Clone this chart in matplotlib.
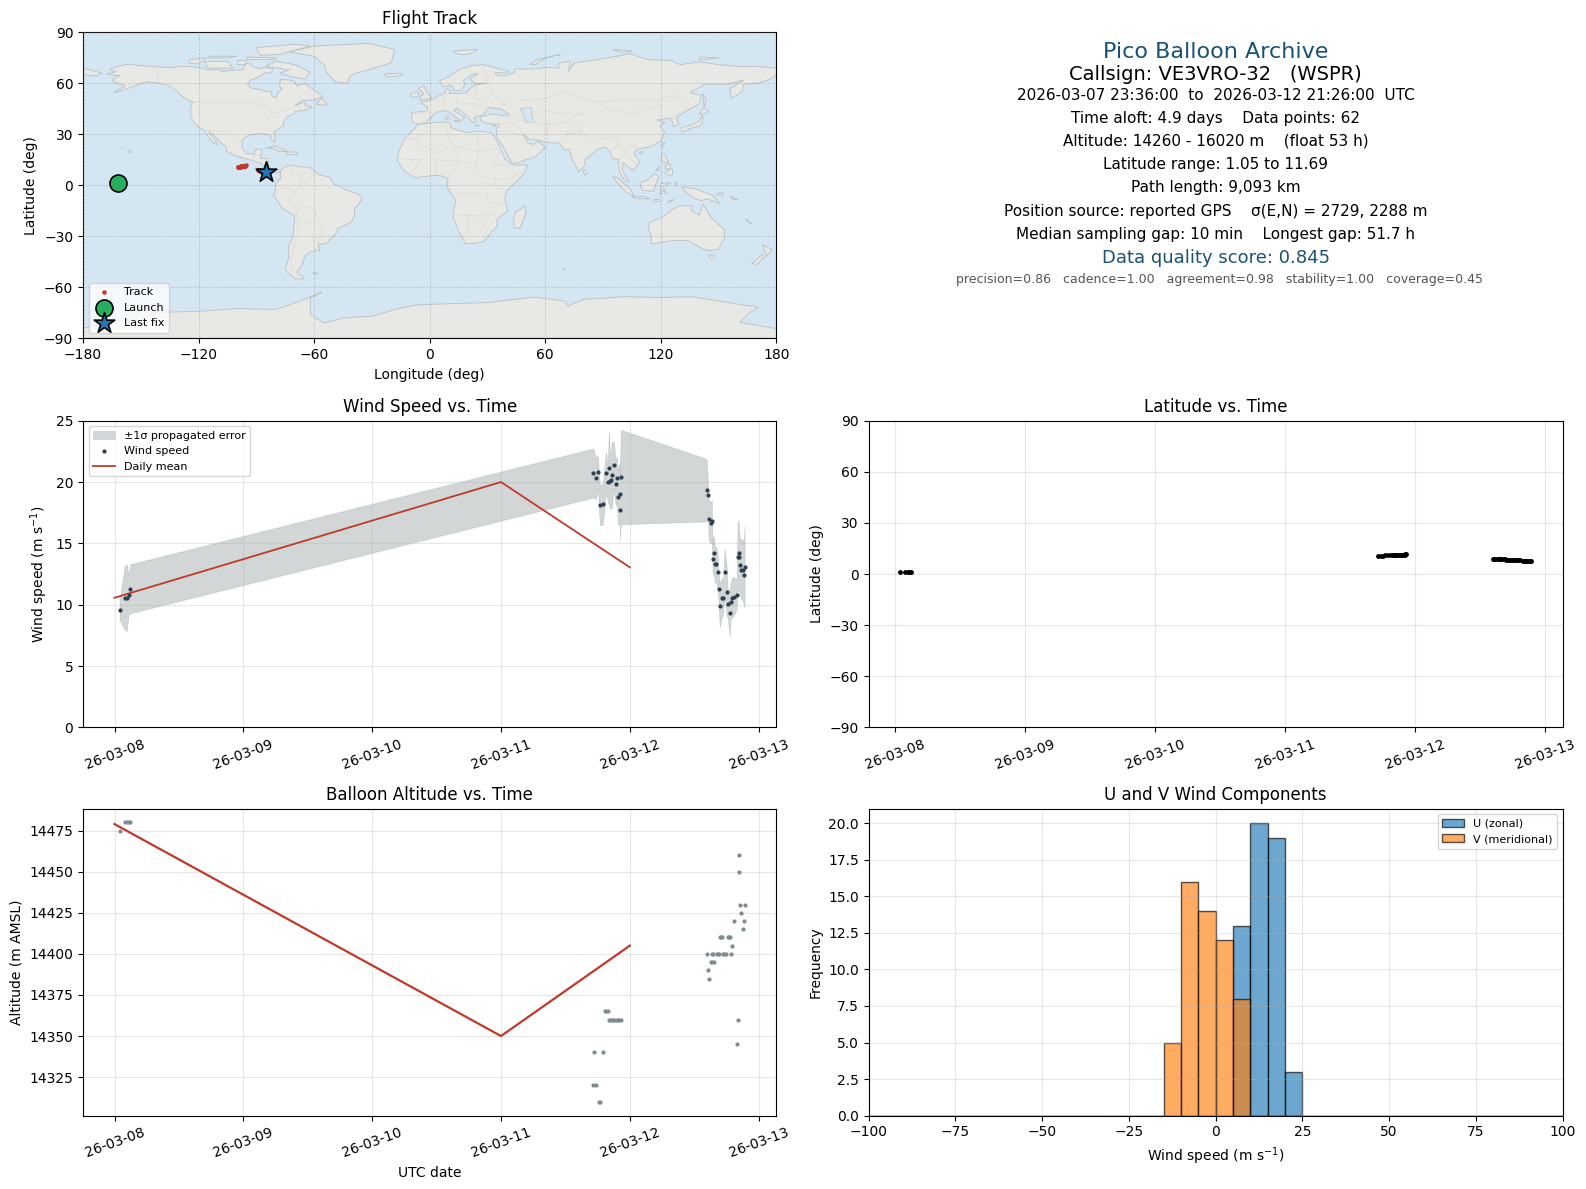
import datetime as dt
import numpy as np
import matplotlib
matplotlib.use("Agg")
import matplotlib.pyplot as plt
import matplotlib.dates as mdates

W, H = 1586, 1189
BASE = mdates.date2num(dt.datetime(2026, 3, 8))

# ---------- measured series (days after 2026-03-08 00:00 UTC) ----------
wind_days = [0.039,0.080,0.096,0.109,0.124,
 3.718,3.736,3.752,3.767,3.791,3.814,3.829,3.837,3.845,3.853,3.860,3.876,3.891,3.899,3.907,3.922,3.922,3.930,
 4.597,4.605,4.612,4.628,4.636,4.643,4.651,4.659,4.672,4.682,4.690,4.698,4.713,4.724,4.736,4.752,4.760,4.775,
 4.783,4.791,4.806,4.829,4.837,4.845,4.845,4.853,4.863,4.876,4.884,4.891]
wind_speed = [9.59,10.57,10.57,10.82,11.31,
 20.74,20.30,20.82,18.11,18.20,20.74,20.00,21.15,20.11,20.19,20.55,21.39,19.84,20.33,18.77,19.02,17.70,20.41,
 19.34,18.93,16.97,16.64,16.80,13.69,14.18,13.28,13.28,12.70,11.31,9.92,10.57,10.57,12.70,11.07,10.08,9.34,
 10.25,10.57,10.66,10.82,13.85,14.18,13.85,13.20,12.87,12.87,12.46,13.11]
wind_sigma = [0.8,2.65,2.7,1.6,2.0,
 2.0,1.7,1.3,1.6,1.7,1.7,1.5,3.0,2.3,2.2,2.7,1.9,1.8,1.8,2.2,2.5,2.5,3.85,
 2.55,1.3,1.7,1.65,1.75,1.2,1.5,1.5,1.4,1.5,1.2,1.75,1.6,1.3,1.9,2.0,1.1,1.95,
 1.5,1.6,1.6,1.2,2.8,2.7,2.7,2.3,2.4,2.5,2.4,3.35]
latitude = [1.05,1.30,1.35,1.35,1.40,
 10.7,10.75,10.8,10.9,10.95,11.0,11.05,11.1,11.1,11.15,11.2,11.2,11.25,11.3,11.35,11.4,11.5,11.69,
 9.1,9.05,9.0,8.95,8.9,8.85,8.8,8.75,8.7,8.65,8.6,8.5,8.45,8.4,8.35,8.3,8.2,8.15,
 8.1,8.05,8.0,7.95,7.9,7.85,7.8,7.75,7.7,7.65,7.6,7.55]
longitude = [-161.6,-161.2,-161.0,-160.8,-160.5,
 -99.6,-99.4,-99.2,-99.0,-98.8,-98.5,-98.2,-98.0,-97.8,-97.6,-97.3,-97.1,-96.8,-96.6,-96.3,-96.0,-95.8,-95.5,
 -89.0,-88.9,-88.8,-88.7,-88.6,-88.5,-88.4,-88.3,-88.2,-88.1,-88.0,-87.9,-87.8,-87.7,-87.6,-87.5,-87.4,-87.3,
 -87.2,-87.1,-87.0,-86.8,-86.6,-86.4,-86.2,-86.0,-85.8,-85.5,-85.2,-85.0]
launch_lon, launch_lat = -161.6, 1.4
last_lon, last_lat = -85.0, 7.6

alt_days = [0.039,0.080,0.096,0.109,0.124,
 3.718,3.721,3.736,3.760,3.767,3.791,3.809,3.819,3.829,3.837,3.848,3.860,3.868,3.881,3.894,3.907,3.920,3.930,
 4.597,4.605,4.612,4.628,4.638,4.638,4.646,4.654,4.674,4.685,4.693,4.698,4.705,4.716,4.721,4.734,4.747,4.760,
 4.767,4.778,4.783,4.791,4.806,4.829,4.837,4.845,4.845,4.853,4.860,4.876,4.884,4.891]
altitude = [14475,14480,14480,14480,14480,
 14320,14340,14320,14310,14310,14340,14365,14365,14365,14360,14360,14360,14360,14360,14360,14360,14360,14360,
 14400,14390,14385,14395,14395,14400,14400,14395,14400,14400,14400,14410,14410,14410,14400,14400,14400,14410,
 14410,14410,14400,14405,14420,14345,14360,14450,14460,14430,14425,14415,14420,14430]

mean_days = [0, 3, 4]
mean_wind = [10.57, 20.0, 13.05]
mean_alt = [14479, 14350, 14405]

hist_edges = list(range(-100, 105, 5))
u_bins = {5: 13, 10: 20, 15: 19, 20: 3}
v_bins = {-15: 5, -10: 16, -5: 14, 0: 12, 5: 8}

date_ticks = [dt.datetime(2026, 3, d) for d in range(8, 14)]

info_lines = [
 ("Pico Balloon Archive", 16, "#1a5276", 52.5, 0),
 ("Callsign: VE3VRO-32   (WSPR)", 14, "black", 75, 0),
 ("2026-03-07 23:36:00  to  2026-03-12 21:26:00  UTC", 11, "black", 95.5, 0),
 ("Time aloft: 4.9 days    Data points: 62", 11, "black", 118.5, 0),
 ("Altitude: 14260 - 16020 m    (float 53 h)", 11, "black", 141.5, 0),
 ("Latitude range: 1.05 to 11.69", 11, "black", 164.5, 0),
 ("Path length: 9,093 km", 11, "black", 187.5, 0),
 ("Position source: reported GPS    σ(E,N) = 2729, 2288 m", 11, "black", 211, 0),
 ("Median sampling gap: 10 min    Longest gap: 51.7 h", 11, "black", 234, 0),
 ("Data quality score: 0.845", 13, "#1a5276", 258, 0),
 ("precision=0.86   cadence=1.00   agreement=0.98   stability=1.00   coverage=0.45", 9, "#555555", 279, 4),
]

# ---------- simplified land outlines (lon, lat) ----------
LAND = [
 # North America
 [(-168,65.6),(-164,66.5),(-163,67),(-166,68.3),(-162,70),(-156.5,71.3),(-150,70.5),(-141,69.7),(-135,69.3),(-128,70),(-124,69.8),(-120,69.4),(-115,68),(-108,68),(-108,67),(-102,67.8),(-97,68),(-96,71),(-94,72),(-92,70),(-88,68.5),(-85,69.5),(-81.5,68.5),(-82,66.5),(-86,66),(-88,64),(-93,62),(-94.5,59),(-92.5,57),(-88,56.5),(-85,55.3),(-82,55),(-82,52.5),(-79.5,51.5),(-79,54.5),(-76.7,56.5),(-78,58.5),(-77.5,62.3),(-73,62),(-70,61),(-69,58.5),(-65,60),(-62,57.5),(-58,54.5),(-56,52),(-60,50.2),(-66,50),(-70,47),(-65,49),(-64.5,47),(-61,46),(-66,44),(-70,43.5),(-71,41.5),(-74,40.5),(-76,37),(-76,35),(-81,31.5),(-80,27),(-80.5,25),(-82,27),(-83,29.5),(-86,30.4),(-89,30.3),(-94,29.5),(-97.3,27),(-97.5,22),(-95,18.5),(-91,18.5),(-90.5,21),(-87,21.5),(-88,16),(-84,15.8),(-83.5,11),(-82,9),(-79.5,9.5),(-77.3,8.6),(-78,7.5),(-80,7.5),(-83,8.3),(-85.7,10),(-87.5,13),(-92,14.5),(-96,15.8),(-101,17.5),(-105.5,20),(-105.5,22.5),(-109,25.8),(-112.5,30),(-114.7,31.5),(-113,29),(-110,24),(-112,24.7),(-115,28.5),(-117,32.5),(-120.5,34.5),(-124,40),(-124,47),(-123,49),(-127,51),(-130,54),(-134,58),(-140,60),(-147,61),(-152,59),(-158,56.5),(-164,54.5),(-158,58.5),(-162,60),(-165,62),(-161,64.5)],
 # South America
 [(-77.3,8.6),(-75,11),(-72,12),(-68,11),(-62,10.5),(-57,6),(-52,5),(-50,1),(-44,-2.5),(-37,-5),(-35,-8),(-39,-14),(-39,-18),(-41,-22),(-48,-25.5),(-48.5,-28),(-54,-34.5),(-58,-34.5),(-57,-38),(-62,-39),(-65,-42),(-66,-46),(-69,-51),(-65,-55),(-70,-55),(-75,-50),(-73,-42),(-73.5,-37),(-71,-30),(-70,-18),(-76,-14),(-81,-6),(-80,-2),(-80,1),(-77.5,4),(-77.5,7.5)],
 # Africa
 [(-6,35.8),(3,37),(10,37.3),(11,34),(15,32.3),(20,31),(25,32),(32,31),(34,28),(37,21),(39,15.5),(43,12),(51,12),(49,7),(44,1),(40,-3),(39,-8),(40.5,-15),(35,-20),(35,-24),(32.5,-27),(28,-33),(22,-34.2),(18.5,-34.2),(15,-27),(12,-18),(13.5,-9),(9,-1),(9.5,4),(5,6),(-4,5),(-8,4.5),(-13,8.5),(-17,14.7),(-16,20),(-13,27.5),(-9.5,31.5)],
 # Eurasia
 [(-5.5,36),(-9,37),(-9.5,43),(-1.5,43.5),(-1,46),(-4.5,48.5),(-1.5,49.5),(2,51),(5,53),(8,54),(8.5,57),(10.8,56),(10,54),(14,54),(19,54.5),(21,57),(24,59.3),(30,60),(23,60),(21,63),(25,65.5),(22,65.5),(17.5,61.5),(18.5,59.5),(16,56),(13,55.5),(11,59),(7,58),(5,61.5),(10,64),(15,68),(22,70.5),(28,71),(33,69.5),(41,67),(39,66),(34,66.5),(35,64.5),(40,64.5),(44,66.5),(44,68.5),(55,68.5),(61,69.5),(67,69),(67,72),(73,73),(72,67),(75,72),(87,74),(100,76.5),(104,77.5),(113,74),(125,73.5),(130,71),(140,72.7),(150,71),(160,70),(170,70),(180,69),(180,65),(177,62.5),(170,60),(163,59.5),(162,55),(156.5,51),(156,57),(163,62),(155,59.5),(143,59.5),(135,54.5),(141,53),(140,48),(132,43),(128,40),(129.5,36),(126.5,34.5),(126,37.5),(125,39.5),(121,39),(118,38.5),(122,37),(119.5,35),(122,31),(120,26),(114,22.5),(108,21.5),(106,19),(109,13.5),(107,10.5),(105,8.8),(100.5,13.5),(100,9),(103.5,2),(101,3),(98.5,8),(98,15),(94.5,16),(94,19),(91,22.5),(87,21),(81,15.5),(80,11),(77.5,8),(74,15),(72.7,21),(70,21),(67,25),(61,25),(57,26.5),(52,27),(48.5,30),(51,25),(54,24),(56,26),(60,22.5),(55,17),(45,13),(43,13),(39,21),(35,28),(34.5,31.5),(36,36),(30,36.3),(26.5,38),(26.5,40.5),(29,41),(33,42),(38,41),(41.5,41.5),(37,45),(35,45),(31,46),(28,42),(26,40.8),(23,40),(24,38),(22.5,36.5),(19.5,41),(14,45.5),(12.5,44),(18.5,40),(16,38),(11,42.5),(8.5,44),(3.5,43),(0,39.5),(-2,37)],
 # Chukotka across the date line
 [(-180,69),(-170,66),(-173,64.5),(-180,65)],
 # Greenland
 [(-73,78.5),(-60,82),(-32,83.5),(-18,80),(-20,72),(-32,68),(-41,65),(-43,60),(-49,61),(-54,67),(-54,70),(-60,76)],
 # Arctic Canada
 [(-80,73),(-70,71),(-62,66.5),(-65,62.5),(-72,64),(-78,66),(-73,68),(-85,70)],
 [(-117,73),(-105,73),(-102,69),(-115,69)],
 [(-125,74),(-116,75),(-120,71.5),(-125,72)],
 [(-90,81),(-70,83),(-62,82),(-78,77),(-88,76.5)],
 [(-115,76),(-100,76),(-105,75),(-115,75)],
 [(-95,75.5),(-80,75),(-80,74),(-95,74)],
 [(-100,73.5),(-96,73.5),(-96,71.5),(-100,71.5)],
 # Atlantic & Caribbean islands
 [(-59,47.7),(-53,47),(-56,51.5)],
 [(-85,22),(-80,23),(-74,20),(-78,20),(-82,22)],
 [(-74.5,19.8),(-69,19.5),(-68.5,18.3),(-74,18)],
 [(-24,65.5),(-15,66),(-14,64.7),(-22,63.7)],
 [(-5,50),(1,51.2),(0,53),(-2,56),(-3,58.6),(-6,57),(-3,54),(-5,52)],
 [(-10,52),(-6,52),(-6,55),(-10,54)],
 [(-61,-51.5),(-58,-51.5),(-59,-52.3)],
 [(-156,21),(-155,19.2),(-156,19.5)],
 [(-159.8,22.2),(-159.3,22.2),(-159.4,21.8)],
 # Arctic Eurasia
 [(12,79),(25,80),(20,77),(15,77)],
 [(52,71),(56,74),(68,77),(60,75),(55,71)],
 [(95,80),(105,79),(100,78)],
 [(140,75.5),(150,75),(140,73.7)],
 # Mediterranean islands
 [(8.3,41),(9.7,41),(9.5,39),(8.5,39)],
 [(12.5,38.2),(15.5,38.2),(15,36.8)],
 [(23.6,35.6),(26.2,35.3),(24,35)],
 [(32.5,35),(34.5,35.5),(33,34.6)],
 # Indian Ocean
 [(49.5,-12),(50,-16),(47,-25),(44,-25),(43.5,-21),(44.5,-16)],
 [(80,9.5),(82,7),(80.5,6),(79.8,8)],
 [(69,-49),(70.5,-49),(70,-50)],
 # East Asia
 [(130.8,34),(136,35.5),(140,38),(141.5,41),(142,39),(140.5,35),(136,33.7),(131,31.2)],
 [(140,42),(142,45.5),(145,43.5),(143,42)],
 [(142,54),(143.5,50),(142.5,46),(142,50)],
 [(121,25),(122,25),(120.8,22),(120,23)],
 [(108.7,19.3),(111,20),(110,18.3)],
 # SE Asia & Pacific
 [(120.5,18.5),(122,18.5),(124,13),(120.5,14)],
 [(122,7),(124,9),(126,9.5),(126,6),(124,6)],
 [(122,11.5),(125,12.5),(125,10),(122.5,9.5)],
 [(117.3,8.5),(119.5,11),(118.5,9)],
 [(109,1.5),(113,3),(117,7),(119,5),(117.5,1),(116,-3.5),(110.5,-3)],
 [(95,5.5),(98,4),(104,-2),(106,-6),(102,-4),(97,2)],
 [(105,-6.5),(111,-6.5),(114.5,-8),(106,-7.5)],
 [(119.5,-5.5),(120,1),(125,1.5),(121,-1),(123,-5),(121,-3)],
 [(131,-1),(138,-2),(147,-6),(150.5,-10.5),(144,-8),(141,-9),(138,-8),(133,-4)],
 [(116,-8.3),(119,-8.3),(119,-9),(116,-9)],
 [(123.5,-9.5),(127,-8.3),(124,-10.3)],
 [(127.5,2),(128.5,1),(127.7,-0.8)],
 [(148.5,-5.5),(152,-4),(152,-6)],
 [(156,-6.5),(160,-8.5),(157,-8)],
 [(164,-20),(167,-22.5),(166,-22)],
 [(114,-22),(122,-18),(126,-14),(130,-12),(136,-12),(136,-15),(140,-17.5),(142,-11),(146,-19),(153,-26),(153,-31),(150,-37.5),(144,-38.5),(138,-35),(134,-32.5),(126,-32.5),(115,-34.5),(115,-30),(113.5,-25)],
 [(144.7,-41),(148,-41),(147,-43.5),(146,-43.5)],
 [(173,-35),(178,-38),(175,-41.5),(174,-39)],
 [(172.5,-41),(174,-42),(170,-46.5),(167,-46)],
 # Antarctica
 [(-180,-84),(-160,-80),(-150,-77),(-135,-74.6),(-118,-74),(-100,-72.5),(-80,-73),(-72,-70),(-56,-63),(-62,-66),(-62,-72),(-62,-76),(-55,-81),(-45,-78),(-30,-77),(-18,-73),(-8,-70.5),(0,-70),(30,-69),(54.6,-65.7),(70,-68),(72,-71),(80,-67),(90,-66.5),(100,-65.5),(120,-66),(136,-65.5),(155,-69),(170.6,-71.8),(166,-75),(161,-80.5),(178,-84),(180,-84),(180,-90),(-180,-90)],
]
INLAND_WATER = [
 [(47,45),(53,46),(53,41),(54,37),(50,37),(49,41)],
]
BORDERS = [
 [(-123,49),(-95,49),(-89,48),(-83,46),(-82.5,42),(-79,43),(-75,45),(-71,45),(-69,47),(-67,45)],
 [(-141,69.6),(-141,60),(-135,58.5),(-130,55)],
 [(-117,32.5),(-106,31.7),(-101,29.5),(-97.3,26)],
 [(-92,14.5),(-91,17.5),(-88,18)],
 [(-72,12),(-72,7),(-67,6),(-67,1),(-70,-4),(-74,-8),(-70,-11),(-69,-17),(-70,-18)],
 [(-60,8),(-60,5),(-64,4),(-64,1),(-67,1)],
 [(-80,-3.5),(-75,-1),(-70,-4)],
 [(-69,-17),(-68,-23),(-70,-33),(-72,-45),(-72,-52)],
 [(-69,-11),(-60,-14),(-58,-20),(-55,-26),(-58,-34)],
 [(-68,-23),(-62,-22),(-58,-20)],
 [(-9,27.5),(3,19),(12,23.5),(25,20),(37,22)],
 [(-13,27.5),(-9,27.5),(-1,32),(-2,35)],
 [(25,32),(25,20),(24,9),(30,4),(34,4),(42,4),(48,8)],
 [(9,37),(9,30),(12,23.5),(15,14),(14,10),(9,4.5)],
 [(-16,16),(-5,15),(3,15),(15,14),(24,13)],
 [(3,15),(3,6.5)],
 [(-8,4.5),(-8,10),(-5,15)],
 [(13,-5),(30,-5),(30,-10),(40,-11)],
 [(12,-17),(24,-18),(33,-16),(35,-20)],
 [(20,-18),(20,-28),(17,-29)],
 [(24,-18),(28,-23),(32,-26)],
 [(34,4),(34,-1),(39,-5)],
 [(37,22),(33,12),(36,12),(43,12)],
 [(2,51),(8,48),(7,44)],
 [(-9,42),(-1.5,43.5),(3,42.5)],
 [(14,54),(14,48),(17,48),(23,48),(29,45)],
 [(7,54),(8,48)],
 [(24,59),(24,52),(30,46)],
 [(28,71),(30,60),(34,52),(40,48),(38,47)],
 [(40,41),(48,40)],
 [(36,36),(42,37),(46,35),(48.5,30)],
 [(34.5,31),(39,32),(48,29)],
 [(46,39),(48,38),(54,37),(61,36),(61,30),(61,25)],
 [(61,36),(70,37),(74,37),(71,30),(70,25)],
 [(74,37),(78,33),(79,30),(88,27),(92,28),(97,28),(98,24),(101,21)],
 [(71,30),(74,30),(78,33)],
 [(47,50),(60,51),(70,55),(80,51),(87,49)],
 [(80,45),(80,42),(74,40),(70,37)],
 [(54,42),(60,44),(70,42),(80,42)],
 [(87,49),(98,50),(108,50),(117,50),(127,53),(135,48),(131,43)],
 [(87,49),(92,45),(105,42),(112,45),(120,47),(117,50)],
 [(101,21),(106,23),(108,21.5)],
 [(98,24),(94,19)],
 [(101,21),(105,15),(107,12)],
 [(124,40),(130,42.5)],
]


def axes_px(left, right, top, bottom):
    return fig.add_axes([left / W, 1 - bottom / H, (right - left) / W, (bottom - top) / H])


def date_axis(ax, first=-0.2447, last=5.138):
    ax.set_xlim(BASE + first, BASE + last)
    ax.set_xticks(mdates.date2num(date_ticks))
    ax.xaxis.set_major_formatter(mdates.DateFormatter("%y-%m-%d"))
    ax.tick_params(axis="x", rotation=20)
    ax.grid(True, alpha=0.3)


fig = plt.figure(figsize=(W / 100, H / 100), dpi=100)
COL1 = (83, 776.4)
COL2 = (868.6, 1562.6)
ROW2 = (420.7, 727.4)
ROW3 = (808.5, 1115.7)

# ---------- Flight track ----------
ax = axes_px(*COL1, 32.4, 338.3)
ax.set_facecolor("#d4e6f1")
for poly in LAND:
    xs, ys = zip(*poly)
    ax.fill(xs, ys, facecolor="#e8e8e4", edgecolor="#b8c0c4", lw=0.6, zorder=1)
for poly in INLAND_WATER:
    xs, ys = zip(*poly)
    ax.fill(xs, ys, facecolor="#d4e6f1", edgecolor="#b8c0c4", lw=0.5, zorder=1.1)
for line in BORDERS:
    xs, ys = zip(*line)
    ax.plot(xs, ys, color="#dcdcd8", lw=0.6, zorder=1.2)
ax.grid(True, color="#808080", lw=0.5, ls="--", alpha=0.4, zorder=1.5)
ax.set_axisbelow(False)
ax.scatter(longitude, latitude, s=5, color="#c0392b", zorder=3, label="Track")
ax.scatter([launch_lon], [launch_lat], s=150, color="#27ae60", edgecolor="black", lw=1.2, zorder=4, label="Launch")
ax.scatter([last_lon], [last_lat], s=240, marker="*", color="#1f77b4", edgecolor="black", lw=1.2, zorder=5, label="Last fix")
ax.set_xlim(-180, 180)
ax.set_ylim(-90, 90)
ax.set_xticks(range(-180, 181, 60))
ax.set_yticks(range(-90, 91, 30))
ax.set_xlabel("Longitude (deg)")
ax.set_ylabel("Latitude (deg)")
ax.set_title("Flight Track")
ax.legend(loc="lower left", fontsize=8)

# ---------- Summary text ----------
ax = axes_px(*COL2, 32.4, 338.3)
ax.axis("off")
for text, size, color, y_px, dx_px in info_lines:
    ax.text(0.5 + dx_px / (COL2[1] - COL2[0]), (338.3 - y_px) / (338.3 - 32.4), text, transform=ax.transAxes,
            ha="center", va="center", fontsize=size, color=color)

# ---------- Wind speed ----------
ax = axes_px(*COL1, *ROW2)
wx = BASE + np.array(wind_days)
ws = np.array(wind_speed)
sg = np.array(wind_sigma)
ax.fill_between(wx, ws - sg, ws + sg, color="#7f8c8d", alpha=0.35, lw=0.4, label="±1σ propagated error")
ax.scatter(wx, ws, s=4, color="#2c3e50", zorder=3, label="Wind speed")
ax.plot(BASE + np.array(mean_days), mean_wind, color="#c0392b", lw=1.3, label="Daily mean")
date_axis(ax)
ax.set_ylim(0, 25)
ax.set_ylabel("Wind speed (m s$^{-1}$)")
ax.set_title("Wind Speed vs. Time")
ax.legend(loc="upper left", fontsize=8)

# ---------- Latitude ----------
ax = axes_px(*COL2, *ROW2)
ax.scatter(wx, latitude, s=6, color="black", zorder=3)
date_axis(ax, -0.2037, 5.136)
ax.set_ylim(-90, 90)
ax.set_yticks(range(-90, 91, 30))
ax.set_ylabel("Latitude (deg)")
ax.set_title("Latitude vs. Time")

# ---------- Altitude ----------
ax = axes_px(*COL1, *ROW3)
ax.scatter(BASE + np.array(alt_days), altitude, s=4, color="#7f8c8d", zorder=3)
ax.plot(BASE + np.array(mean_days), mean_alt, color="#c0392b", lw=1.6)
date_axis(ax)
ax.set_ylim(14301.5, 14488.5)
ax.set_xlabel("UTC date")
ax.set_ylabel("Altitude (m AMSL)")
ax.set_title("Balloon Altitude vs. Time")

# ---------- Histogram ----------
ax = axes_px(*COL2, *ROW3)
ax.hist(list(u_bins), bins=hist_edges, weights=list(u_bins.values()), alpha=0.65,
        edgecolor="black", color="#1f77b4", label="U (zonal)")
ax.hist(list(v_bins), bins=hist_edges, weights=list(v_bins.values()), alpha=0.65,
        edgecolor="black", color="#ff7f0e", label="V (meridional)")
ax.set_xlim(-100, 100)
ax.set_xlabel("Wind speed (m s$^{-1}$)")
ax.set_ylabel("Frequency")
ax.set_title("U and V Wind Components")
ax.grid(True, alpha=0.3)
ax.legend(loc="upper right", fontsize=8)

fig.savefig("out.png", dpi=100)
